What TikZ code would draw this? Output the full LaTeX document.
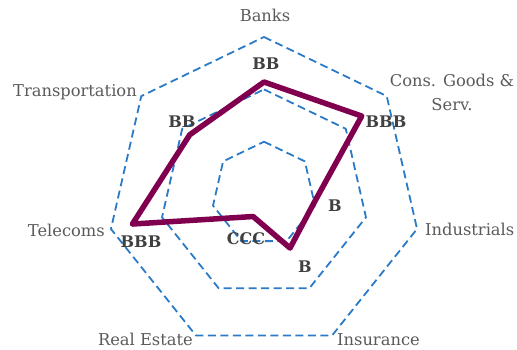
\documentclass[tikz,border=0pt]{standalone}
\usepackage{fontspec}
\setmainfont{DejaVu Serif}
\definecolor{gridblue}{HTML}{2A7AC8}
\definecolor{scorepurple}{HTML}{80004F}
\definecolor{labelgray}{HTML}{5A5A5A}
\definecolor{ratinggray}{HTML}{404040}

\begin{document}
\begin{tikzpicture}[x=1pt, y=1pt,
    grid/.style={gridblue, dash pattern=on 8pt off 4.5pt, line width=1.8pt, line join=round},
    axislabel/.style={labelgray, inner sep=0pt, font=\fontsize{16.3}{24}\selectfont},
    rating/.style={ratinggray, inner sep=0pt, font=\bfseries\fontsize{16}{18}\selectfont},
    score/.style={scorepurple, line width=5.5pt, line join=round}]
    \useasboundingbox (0,0) rectangle (517,349);

    \begin{scope}[shift={(264,155)}]
      % draw grid heptagons
      \foreach \r in {52.3,104.6,157}
        \draw[grid] (90:\r) \foreach \k in {1,...,6} { -- (90-51.4286*\k:\r) } -- cycle;

      % data points
      \coordinate (banks) at (90:112);
      \coordinate (cons) at (38.57:125);
      \coordinate (indus) at (-12.86:50);
      \coordinate (insur) at (-64.29:60);
      \coordinate (realest) at (-115.71:25);
      \coordinate (telec) at (-167.14:135);
      \coordinate (transp) at (141.43:95);

      % draw score line
      \draw[score] (banks) -- (cons) -- (indus) -- (insur) -- (realest) -- (telec) -- (transp) -- cycle;
    \end{scope}

    % draw sector names
    \node[axislabel] (lbanks) at (265,334) {Banks};
    \node[axislabel, align=center] (lcons) at (452,257) {Cons. Goods \&\\Serv.};
    \node[axislabel, anchor=west] (lindus) at (425,120) {Industrials};
    \node[axislabel, anchor=west] (linsur) at (337,9.5) {Insurance};
    \node[axislabel, anchor=east] (lreal) at (193,9.5) {Real Estate};
    \node[axislabel, anchor=east] (ltelec) at (105,119) {Telecoms};
    \node[axislabel, anchor=east] (ltransp) at (137,257) {Transportation};

    % draw ratings
    \node[rating] (rbanks) at (266,285) {BB};
    \node[rating] (rcons) at (386,227) {BBB};
    \node[rating] (rindus) at (335,143) {B};
    \node[rating] (rinsur) at (305,82) {B};
    \node[rating] (rreal) at (246,110) {CCC};
    \node[rating] (rtelec) at (141,107) {BBB};
    \node[rating] (rtransp) at (182,227) {BB};
\end{tikzpicture}
\end{document}
